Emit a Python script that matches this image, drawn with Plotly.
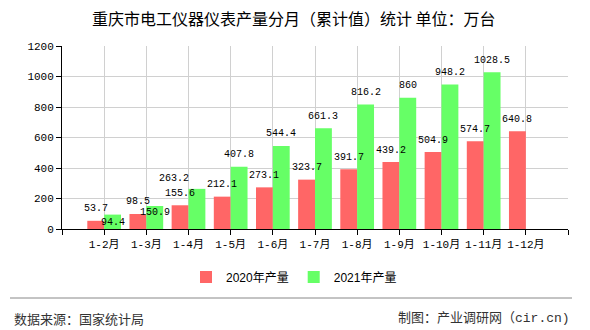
import plotly.graph_objects as go

categories = ["1-2月", "1-3月", "1-4月", "1-5月", "1-6月", "1-7月", "1-8月", "1-9月", "1-10月", "1-11月", "1-12月"]
values_2020 = [53.7, 98.5, 155.6, 212.1, 273.1, 323.7, 391.7, 439.2, 504.9, 574.7, 640.8]
values_2021 = [94.4, 150.9, 263.2, 407.8, 544.4, 661.3, 816.2, 860, 948.2, 1028.5, None]
series_names = ["2020年产量", "2021年产量"]
y_ticks = [0, 200, 400, 600, 800, 1000, 1200]

RED = "#ff6666"
GREEN = "#66ff66"
LABEL_FONT = dict(family="Liberation Mono, DejaVu Sans Mono, monospace", size=10, color="#000")
CJK = "Noto Sans CJK SC"

xpos = list(range(1, len(categories) + 1))

fig = go.Figure()
fig.add_trace(go.Bar(x=xpos, y=values_2020, name=series_names[0], marker=dict(color=RED, line=dict(width=0))))
fig.add_trace(go.Bar(x=xpos, y=[v if v is not None else 0 for v in values_2021], name=series_names[1],
                     marker=dict(color=GREEN, line=dict(width=0))))

# value labels (label-layout adjustments of the original chart)
green_overrides = {0: dict(yshift=-8), 1: dict(yshift=-7), 2: dict(yshift=10, xshift=-23)}
for i, v in enumerate(values_2020):
    fig.add_annotation(x=xpos[i] - 0.2, y=v, text=f"{v:g}", showarrow=False, yshift=12,
                       yanchor="middle", font=LABEL_FONT)
for i, v in enumerate(values_2021):
    if v is None:
        continue
    o = dict(yshift=12, xshift=0)
    o.update(green_overrides.get(i, {}))
    fig.add_annotation(x=xpos[i] + 0.2, y=v, text=f"{v:g}", showarrow=False,
                       yanchor="middle", font=LABEL_FONT, **o)

PH = 183.0
PW = 506.0
def py(pix):  # pixel row -> paper y
    return (229 - pix) / PH
def px(pix):  # pixel column -> paper x
    return (pix - 62) / PW

# title
fig.add_annotation(xref="paper", yref="paper", x=px(294), y=py(18.5), xanchor="center", yanchor="middle",
                   text="重庆市电工仪器仪表产量分月（累计值）统计 单位：万台", showarrow=False,
                   font=dict(family=CJK, size=16, color="#000"))

# footer
fig.add_shape(type="line", xref="paper", yref="paper", x0=px(10), x1=px(572),
              y0=py(298), y1=py(298), line=dict(color="#888", width=1))
fig.add_annotation(xref="paper", yref="paper", x=px(12), y=py(318), xanchor="left",
                   yanchor="middle", text="数据来源：国家统计局", showarrow=False,
                   font=dict(family=CJK, size=13, color="#333"))
fig.add_annotation(xref="paper", yref="paper", x=px(572), y=py(318), xanchor="right",
                   yanchor="middle", text="制图：产业调研网（cir.cn)", showarrow=False,
                   font=dict(family="Liberation Mono, " + CJK, size=13, color="#333"))

fig.update_layout(
    width=590, height=330,
    margin=dict(l=62, r=22, t=46, b=101),
    paper_bgcolor="white", plot_bgcolor="white",
    barmode="group", bargap=0.2, bargroupgap=0,
    showlegend=True,
    legend=dict(orientation="h", x=px(186), xanchor="left", y=py(277), yanchor="middle",
                font=dict(family="Liberation Sans, " + CJK, size=12, color="#000"),
                itemwidth=30, tracegroupgap=0, bgcolor="rgba(0,0,0,0)"),
    font=dict(family=CJK, color="#000"),
)
fig.update_xaxes(
    range=[0, 12], tickmode="array", tickvals=list(range(0, 13)),
    ticktext=[""] + categories + [""], tickangle=0,
    showgrid=True, gridcolor="#d0d0d0", gridwidth=1,
    showline=True, linecolor="#000", linewidth=1,
    ticks="outside", ticklen=5, tickcolor="#000",
    tickfont=dict(family="Liberation Mono, " + CJK, size=11, color="#000"),
    zeroline=False, fixedrange=True,
)
fig.update_yaxes(
    range=[0, 1200], tickmode="array", tickvals=y_ticks,
    showgrid=True, gridcolor="#d0d0d0", gridwidth=1,
    showline=True, linecolor="#000", linewidth=1,
    ticks="outside", ticklen=5, tickcolor="#000",
    tickfont=dict(family="Liberation Mono, DejaVu Sans Mono", size=11, color="#000"),
    zeroline=False, fixedrange=True,
)

fig.write_html("out.html")
